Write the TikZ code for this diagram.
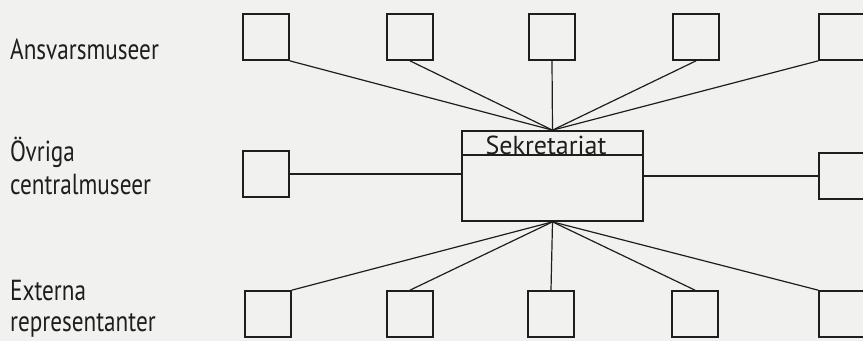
\documentclass[tikz,border=0pt]{standalone}
\usepackage{fontspec}
\newfontfamily\hand{PT Sans}[FakeStretch=0.8]
\newfontfamily\handwide{PT Sans}
\usetikzlibrary{calc}
\definecolor{paper}{RGB}{241,241,240}
\definecolor{ink}{RGB}{30,30,30}
\tikzset{
	unit/.style={draw=ink, line width=1.7pt, minimum size=46pt, inner sep=0pt},
	office/.style={draw=ink, line width=1.7pt, minimum width=181pt, minimum height=90pt, inner sep=0pt},
	link/.style={draw=ink, line width=1.2pt},
	grouptext/.style={text=ink, anchor=base west, inner sep=0pt, font=\hand\fontsize{29}{31}\selectfont},
	titletext/.style={text=ink, anchor=base, inner sep=0pt, font=\handwide\fontsize{26}{28}\selectfont}
}

\begin{document}
\begin{tikzpicture}[x=1pt,y=-1pt]
			%%%%% START %%%%%
			
			\fill[paper] (0,0) rectangle (863,341);
			\useasboundingbox (0,0) rectangle (863,341);
			
			\node[grouptext] (ansvar) at (10,59) {Ansvarsmuseer};
			\node[grouptext] (ovriga) at (10,161) {Övriga};
			\node[grouptext] (central) at (10,194) {centralmuseer};
			\node[grouptext] (externa) at (10,300) {Externa};
			\node[grouptext] (repr) at (10,331) {representanter};
			
			\node[office] (sek) at (552.5,176) {};
			\draw[link, line width=1.5pt] ([yshift=-25pt]sek.north west) -- ([yshift=-25pt]sek.north east);
			\node[titletext] (sektitle) at (546,154) {Sekretariat};
			
			\node[unit] (top1) at (266,37) {};
			\node[unit] (top2) at (410,37) {};
			\node[unit] (top3) at (552,37) {};
			\node[unit] (top4) at (696,37) {};
			\node[unit] (top5) at (842,37) {};
			
			\node[unit] (mid1) at (266,174) {};
			\node[unit] (mid5) at (842,176) {};
			
			\node[unit] (bot1) at (268,314) {};
			\node[unit] (bot2) at (410,314) {};
			\node[unit] (bot3) at (551,314) {};
			\node[unit] (bot4) at (695,314) {};
			\node[unit] (bot5) at (842,314) {};
			
			\draw[link] (top1.south east) -- (sek.north);
			\draw[link] (top2.south) -- (sek.north);
			\draw[link] (top3.south) -- (sek.north);
			\draw[link] (top4.south) -- (sek.north);
			\draw[link] (top5.south west) -- (sek.north);
			
			\draw[link] (mid1.east) -- (mid1.east -| sek.west);
			\draw[link] (sek.east |- mid5.west) -- (mid5.west);
			
			\draw[link] (bot1.north east) -- (sek.south);
			\draw[link] (bot2.north) -- (sek.south);
			\draw[link] (bot3.north) -- (sek.south);
			\draw[link] (bot4.north) -- (sek.south);
			\draw[link] (bot5.north west) -- (sek.south);
			
			%%%%% END %%%%%
		\end{tikzpicture}
\end{document}
